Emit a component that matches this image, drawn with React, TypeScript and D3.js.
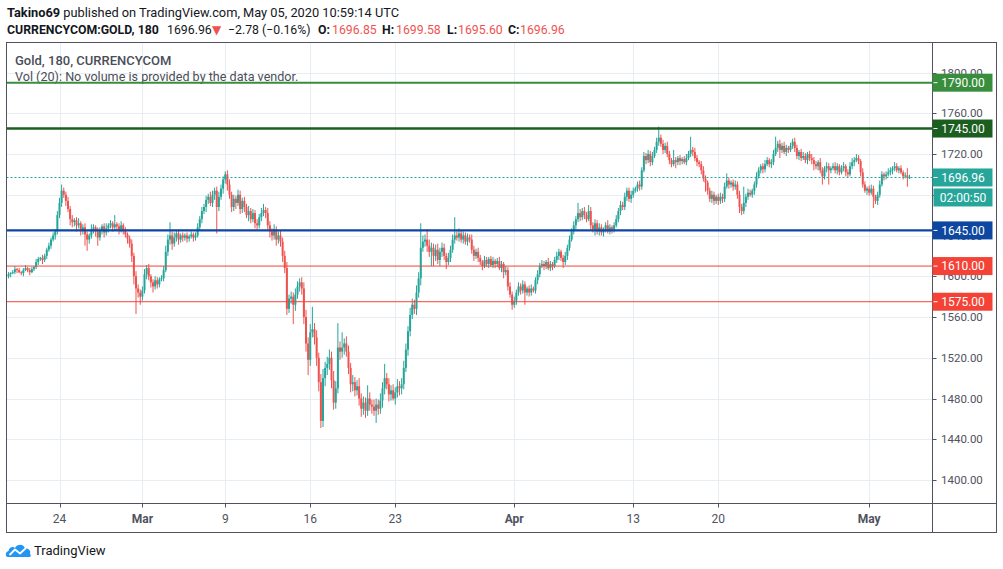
import React from 'react';
import * as d3 from 'd3';

// ---------- DATA (3h candles, CURRENCYCOM:GOLD) ----------
const firstOpen = 1600;
const closes: number[] = [
  1602,1603,1604,1607,1606,1604,1603,1606,1608,1606,
  1604,1607,1609,1614,1617,1618,1616,1620,1626,1630,
  1636,1640,1644,1660,1672,1684,1680,1674,1666,1656,
  1653,1655,1650,1652,1645,1648,1641,1636,1640,1646,
  1648,1644,1638,1645,1649,1643,1647,1650,1652,1648,
  1651,1649,1646,1650,1645,1641,1637,1632,1620,1600,
  1588,1584,1580,1586,1602,1608,1600,1594,1590,1596,
  1592,1597,1598,1606,1624,1636,1640,1632,1638,1642,
  1636,1640,1638,1640,1637,1639,1641,1638,1640,1648,
  1656,1664,1668,1675,1678,1672,1680,1684,1668,1678,
  1686,1695,1700,1690,1680,1668,1676,1672,1680,1666,
  1674,1668,1660,1664,1656,1662,1652,1650,1658,1662,
  1665,1662,1650,1644,1640,1646,1636,1640,1634,1620,
  1608,1568,1578,1580,1572,1582,1590,1594,1588,1560,
  1534,1518,1545,1548,1540,1520,1496,1458,1500,1510,
  1514,1520,1498,1476,1490,1530,1526,1530,1534,1526,
  1510,1494,1496,1488,1492,1480,1470,1476,1468,1480,
  1474,1472,1468,1474,1470,1478,1490,1500,1494,1484,
  1488,1480,1486,1492,1490,1494,1510,1528,1546,1562,
  1572,1568,1584,1598,1628,1634,1636,1630,1624,1628,
  1620,1626,1616,1624,1628,1620,1614,1618,1626,1636,
  1640,1638,1642,1636,1640,1634,1638,1636,1626,1620,
  1624,1618,1614,1610,1616,1612,1617,1611,1615,1612,
  1615,1608,1612,1604,1606,1590,1582,1572,1576,1584,
  1590,1586,1592,1584,1588,1584,1588,1586,1596,1602,
  1610,1612,1610,1614,1608,1612,1610,1616,1620,1624,
  1618,1614,1620,1628,1636,1644,1650,1656,1662,1658,
  1664,1660,1656,1664,1650,1646,1652,1644,1648,1643,
  1646,1650,1644,1648,1646,1650,1656,1664,1670,1668,
  1678,1684,1676,1680,1684,1686,1690,1688,1704,1718,
  1714,1720,1712,1718,1724,1732,1736,1730,1724,1728,
  1720,1714,1710,1714,1712,1716,1713,1715,1712,1716,
  1720,1724,1722,1716,1712,1710,1704,1696,1692,1684,
  1676,1680,1674,1678,1674,1678,1676,1688,1694,1690,
  1692,1688,1690,1680,1668,1664,1672,1678,1682,1680,
  1684,1690,1698,1704,1708,1705,1710,1714,1710,1712,
  1720,1726,1730,1724,1728,1722,1726,1724,1728,1732,
  1726,1718,1722,1716,1718,1714,1720,1716,1714,1710,
  1708,1712,1704,1698,1706,1708,1704,1706,1708,1704,
  1708,1702,1706,1708,1702,1700,1708,1712,1714,1716,
  1713,1702,1690,1684,1686,1682,1686,1678,1674,1680,
  1690,1700,1698,1700,1702,1704,1706,1708,1704,1706,
  1702,1698,1699,1696.85,1696.96,
];
const upperWicks: number[] = [
  2,1,2,3,1,2,1,2,3,1, 2,2,1,3,2,1,3,2,2,3, 2,3,2,4,5,6,3,3,4,3,
  4,2,3,5,2,3,4,3,2,5, 3,2,4,3,2,3,5,2,3,2, 9,2,3,4,2,3,2,3,4,3,
  5,4,3,4,5,3,4,2,3,4, 3,2,3,4,6,5,13,4,5,3, 4,2,3,2,3,2,3,2,3,4,
  3,4,3,4,3,5,4,3,4,5, 4,3,3,4,5,3,4,3,5,4, 3,4,3,5,3,4,3,4,3,5,
  6,3,5,4,3,5,3,4,5,4, 5,6,4,5,4,6,5,4,5,6, 7,6,8,22,6,7,5,8,9,6,
  7,8,6,9,7,24,6,15,5,7, 6,5,7,5,6,8,5,6,5,13, 6,5,7,6,5,7,6,14,5,6,
  5,6,5,7,5,6,7,6,5,7, 6,5,7,6,24,6,5,10,6,5, 4,5,6,4,5,4,3,5,4,5,
  18,4,5,3,4,3,4,3,5,4, 3,4,3,2,4,3,2,3,4,2, 3,4,3,2,4,3,4,3,4,3,
  4,3,4,3,2,3,4,2,3,4, 3,4,3,2,4,3,2,3,4,3, 2,3,4,3,4,3,4,3,10,4,
  3,4,3,6,4,3,4,3,4,3, 2,3,5,3,2,3,4,3,4,3, 4,3,3,4,3,2,3,4,3,4,
  3,4,3,4,3,4,11,3,4,3, 4,3,2,10,3,2,3,2,3,4, 3,13,3,4,3,2,3,4,3,2,
  3,4,3,2,3,4,3,4,7,3, 2,3,4,3,4,3,16,3,4,3, 2,3,4,3,2,3,4,3,2,3,
  4,11,3,4,3,4,3,2,3,3, 4,3,2,3,4,3,2,3,4,3, 3,2,4,3,2,4,3,2,3,4,
  3,2,3,4,2,3,4,4,3,4, 3,2,4,3,2,3,4,3,2,3, 4,3,2,3,4,3,2,4,3,2,
  3,2,3,7,2.62,
];
const lowerWicks: number[] = [
  2,3,1,2,3,1,2,3,1,2, 3,1,2,2,3,2,4,2,3,2, 3,2,4,3,3,4,3,5,3,6,
  5,4,6,3,5,4,11,11,4,3, 4,5,8,3,4,5,3,4,3,4, 3,4,5,3,4,3,5,4,6,8,
  25,5,8,4,3,5,4,5,6,3, 4,3,2,3,2,4,5,6,3,4, 5,3,4,3,4,3,2,4,3,2,
  3,4,3,5,4,3,4,5,26,4, 3,5,4,6,4,5,4,6,3,5, 4,5,3,6,4,3,5,4,3,4,
  3,5,4,6,5,4,6,4,5,6, 5,6,4,5,19,6,4,5,6,7, 8,15,6,5,7,8,9,7,6,8,
  7,6,8,7,6,5,8,6,7,5, 6,8,7,6,5,7,8,6,7,5, 6,7,5,12,6,5,7,6,5,7,
  6,2,6,5,7,6,5,4,6,5, 4,5,6,5,7,4,5,6,5,14, 10,5,4,6,5,4,7,3,4,3,
  4,3,4,3,4,3,4,3,4,5, 3,4,3,4,2,3,4,2,3,4, 3,2,4,6,3,4,3,5,3,4,
  3,4,3,12,3,4,3,2,3,4, 3,2,4,3,2,3,4,2,3,4, 3,6,3,4,3,2,3,4,3,4,
  3,4,3,2,4,3,6,3,4,3, 4,3,2,3,4,3,2,3,4,3, 3,4,3,4,3,2,3,4,3,2,
  4,3,4,3,2,3,4,3,4,3, 3,4,3,2,6,3,4,3,2,3, 2,3,4,3,4,3,4,3,9,4,
  3,4,4,3,4,3,4,3,2,4, 3,4,3,4,6,4,3,4,3,2, 3,4,3,2,3,4,3,2,3,4,
  3,2,4,8,3,2,4,3,2,3, 4,3,4,3,2,3,4,3,4,6, 3,4,3,8,3,4,14,3,2,3,
  4,3,2,3,4,3,2,3,4,2, 3,4,3,2,4,3,2,11,3,4, 3,2,4,3,2,3,4,3,2,3,
  2,3,2,8.85,1.25,
];
const priceTicks = [1400, 1440, 1480, 1520, 1560, 1600, 1640, 1680, 1720, 1760, 1800];
// price labels fully hidden behind the countdown box in the reference
const hiddenPriceLabels = [1680];
const timeTickIndex = [24, 63, 102, 142, 182, 238, 294, 334, 405];
const timeTickLabels = ['24', 'Mar', '9', '16', '23', 'Apr', '13', '20', 'May'];
const levelPrices = [1790, 1745, 1645, 1610, 1575];
const levelLabels = ['1790.00', '1745.00', '1645.00', '1610.00', '1575.00'];
const lastPrice = 1696.96;
const lastPriceLabel = '1696.96';
const countdownLabel = '02:00:50';

// ---------- STYLE ----------
const UP = '#26a69a';
const DOWN = '#ef5350';
const GRID = '#e6edf3';
const FRAME = '#50535e';
const AXIS_TEXT = '#50535e';
const levelColors = ['#388e3c', '#1b5e20', '#0d47a1', '#f44336', '#f44336'];
const levelWidths = [2, 2.6, 2.2, 1, 1];
const FONT = 'Roboto, "Liberation Sans", Arial, sans-serif';

export default function App() {
  const W = 1003, H = 569;
  const left = 6.5, right = 932.5, top = 42.5, axisY = 503.5, bottom = 532.5, outerRight = 996.5;

  const x = d3.scaleLinear().domain([0, closes.length - 1]).range([8.5, 909.5]);
  const y = d3.scaleLinear().domain([1400, 1720]).range([480, 154]);

  const candles = closes.map((c, i) => {
    const o = i === 0 ? firstOpen : closes[i - 1];
    const h = Math.max(o, c) + upperWicks[i];
    const l = Math.min(o, c) - lowerWicks[i];
    return { i, o, h, l, c };
  });
  const bw = 2;

  return (
    <>
      <style>{`body{margin:0;background:#fff}`}</style>
      <svg width={W} height={H} style={{ display: 'block', fontFamily: FONT }}>
        <rect x={0} y={0} width={W} height={H} fill="#fff" />
        <defs>
          <clipPath id="plot">
            <rect x={left + 0.5} y={top + 0.5} width={right - left - 1} height={axisY - top - 1} />
          </clipPath>
        </defs>

        {/* header */}
        <text x={7} y={17} fontSize={12.8} fill="#131722">
          <tspan fontWeight={700}>Takino69</tspan>
          <tspan> published on TradingView.com, May 05, 2020 10:59:14 UTC</tspan>
        </text>
        <g fontSize={12.3} fill="#131722">
          <text x={7} y={34} fontWeight={700}>CURRENCYCOM:GOLD, 180</text>
          <text x={167} y={34}>1696.96</text>
          <text x={212} y={34} fill={DOWN} fontSize={12} style={{ fontFamily: '"DejaVu Sans", sans-serif' }}>▼</text>
          <text x={228} y={34}>−2.78 (−0.16%)</text>
          <text x={318} y={34} fontWeight={700}>O:</text>
          <text x={332} y={34} fill={DOWN}>1696.85</text>
          <text x={382} y={34} fontWeight={700}>H:</text>
          <text x={396} y={34} fill={DOWN}>1699.58</text>
          <text x={447} y={34} fontWeight={700}>L:</text>
          <text x={458} y={34} fill={DOWN}>1695.60</text>
          <text x={508} y={34} fontWeight={700}>C:</text>
          <text x={520} y={34} fill={DOWN}>1696.96</text>
        </g>

        {/* grid */}
        <g stroke={GRID} strokeWidth={1}>
          {priceTicks.map(p => (
            <line key={'h' + p} x1={left} x2={right} y1={Math.round(y(p)) + 0.5} y2={Math.round(y(p)) + 0.5} />
          ))}
          {timeTickIndex.map(t => (
            <line key={'v' + t} x1={Math.round(x(t)) + 0.5} x2={Math.round(x(t)) + 0.5} y1={top} y2={axisY} />
          ))}
        </g>

        {/* legend */}
        <text x={15} y={65} fontSize={13} fill="#4a4e59" fontWeight={500}>Gold, 180, CURRENCYCOM</text>
        <text x={15} y={81} fontSize={12.6} fill="#4a4e59">Vol (20): No volume is provided by the data vendor.</text>

        {/* candles */}
        <g clipPath="url(#plot)">
          {candles.map(d => {
            const col = d.c >= d.o ? UP : DOWN;
            const yt = y(Math.max(d.o, d.c));
            const yb = y(Math.min(d.o, d.c));
            return (
              <g key={d.i}>
                <line x1={x(d.i)} x2={x(d.i)} y1={y(d.h)} y2={y(d.l)} stroke={col} strokeWidth={1} />
                <rect x={x(d.i) - bw / 2} y={yt} width={bw} height={Math.max(1, yb - yt)} fill={col} />
              </g>
            );
          })}
          {/* horizontal levels */}
          {levelPrices.map((p, k) => (
            <line key={'lv' + p} x1={left} x2={right} y1={y(p)} y2={y(p)} stroke={levelColors[k]} strokeWidth={levelWidths[k]} />
          ))}
          {/* last price dotted line */}
          <line x1={left} x2={right} y1={Math.round(y(lastPrice)) + 0.5} y2={Math.round(y(lastPrice)) + 0.5}
            stroke={UP} strokeWidth={1} strokeDasharray="2 2" />
        </g>

        {/* frame */}
        <rect x={left} y={top} width={outerRight - left} height={bottom - top} fill="none" stroke={FRAME} strokeWidth={1} />
        <line x1={right} x2={right} y1={top} y2={bottom} stroke={FRAME} />
        <line x1={left} x2={outerRight} y1={axisY} y2={axisY} stroke={FRAME} />

        {/* price axis */}
        <g fontSize={11.5} fill={AXIS_TEXT}>
          {priceTicks.map(p => (
            <g key={'pt' + p}>
              <line x1={right} x2={right + 4} y1={Math.round(y(p)) + 0.5} y2={Math.round(y(p)) + 0.5} stroke={FRAME} />
              {hiddenPriceLabels.includes(p) ? null : <text x={941} y={y(p) + 4}>{p.toFixed(2)}</text>}
            </g>
          ))}
        </g>

        {/* level labels */}
        <g fontSize={12} fill="#fff">
          {levelPrices.map((p, k) => (
            <g key={'lb' + p}>
              <rect x={right} y={y(p) - 9} width={60} height={18} fill={levelColors[k]} />
              <line x1={right + 1} x2={right + 5} y1={y(p)} y2={y(p)} stroke="#fff" />
              <text x={963} y={y(p) + 4.2} textAnchor="middle">{levelLabels[k]}</text>
            </g>
          ))}
          <rect x={right} y={y(lastPrice) - 9} width={60} height={18} fill={UP} />
          <line x1={right + 1} x2={right + 5} y1={y(lastPrice)} y2={y(lastPrice)} stroke="#fff" />
          <text x={963} y={y(lastPrice) + 4.2} textAnchor="middle">{lastPriceLabel}</text>
          <rect x={right + 1} y={y(lastPrice) + 11} width={59} height={18} fill={UP} />
          <text x={963} y={y(lastPrice) + 24.2} textAnchor="middle">{countdownLabel}</text>
        </g>

        {/* time axis */}
        <g fontSize={12} fill={AXIS_TEXT}>
          {timeTickIndex.map((t, k) => {
            const isMonth = /[A-Za-z]/.test(timeTickLabels[k]);
            return (
              <g key={'tt' + t}>
                <line x1={Math.round(x(t)) + 0.5} x2={Math.round(x(t)) + 0.5} y1={axisY} y2={axisY + 4} stroke={FRAME} />
                <text x={x(t)} y={523} textAnchor="middle" fontWeight={isMonth ? 700 : 400}>{timeTickLabels[k]}</text>
              </g>
            );
          })}
        </g>

        {/* TradingView logo */}
        <g>
          <path d="M8,557 C5,557 5,552 8.5,551 C9,547 13,546 15,548 C17,543.5 24,543.5 25,548.5 C29,548 31,551 30,554 C31.5,555 31,557 29,557 Z" fill="#2196f3" />
          <polyline points="9.5,555 15,549.5 20,553.5 26,548" fill="none" stroke="#fff" strokeWidth={1.8} strokeLinejoin="round" />
          <text x={34} y={555} fontSize={13} fill="#131722">TradingView</text>
        </g>
      </svg>
    </>
  );
}
